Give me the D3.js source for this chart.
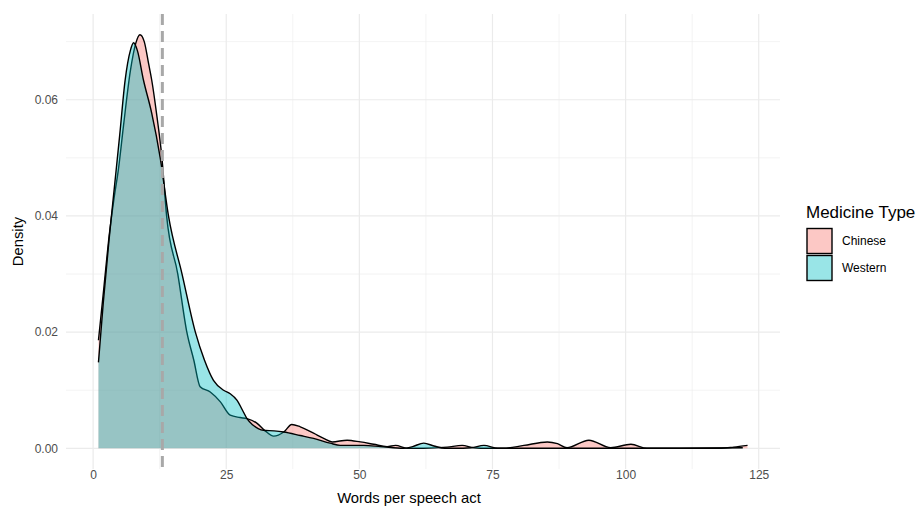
<!DOCTYPE html>
<html>
<head>
<meta charset="utf-8">
<script src="https://cdn.jsdelivr.net/npm/d3@7"></script>
<style>
  body { margin: 0; background: #fff; }
  text { font-family: "Liberation Sans", Arial, sans-serif; }
</style>
</head>
<body>
<div id="chart"></div>
<script>
// density estimates (x = words per speech act)
var groups = ["Chinese", "Western"];
var fills = ["#F8766D", "#00BFC4"];

var chineseX = [1, 2, 3, 4, 4.75, 5.7, 7, 8, 8.8, 9.6, 10.4, 11, 12, 12.9, 13.8, 15.9, 17.6, 18.9, 20.1, 22,
    23.9, 25.75, 27.6, 28.9, 30.8, 32.3, 33.9, 35.8, 37.3, 38.9, 41.4, 43.3, 44.9, 47.7, 50.2, 52.7, 55.2,
    56.8, 59, 62, 66.5, 69.3, 71.5, 74, 77, 80.9, 85.3, 87.2, 89, 93.1, 97.2, 101, 104, 110, 118, 120.3, 122.9];
var chineseY = [0.0186, 0.0275, 0.0365, 0.0435, 0.048, 0.0555, 0.065, 0.0697, 0.0712, 0.0700, 0.0663, 0.0634,
    0.0570, 0.0502, 0.0400, 0.0300, 0.0200, 0.0152, 0.0106, 0.0097, 0.0080, 0.0057, 0.0053, 0.0051, 0.0043,
    0.0030, 0.0021, 0.0028, 0.0041, 0.0037, 0.0026, 0.0017, 0.0011, 0.0014, 0.0011, 0.0007, 0.0003, 0.0005,
    0.0000, 0.0000, 0.0002, 0.0005, 0.0001, 0.0000, 0.0000, 0.0005, 0.0011, 0.0008, 0.0001, 0.0014, 0.0001,
    0.0007, 0.0000, 0.0000, 0.0000, 0.0002, 0.0005];

var westernX = [1, 1.9, 3, 4, 5, 6, 7, 7.6, 8.3, 9.45, 11, 12.6, 14.15, 16.7, 19.2, 20.9, 22.6, 24.5, 25.75,
    27, 28.2, 28.9, 30, 31, 32, 34, 35.8, 38.9, 41.4, 44.5, 46.4, 50.8, 54, 58.3, 60, 62.1, 64, 66, 68, 71,
    73.4, 76, 85, 100, 110, 122];
var westernY = [0.0148, 0.0250, 0.0360, 0.0450, 0.0540, 0.0633, 0.0685, 0.0698, 0.0685, 0.0634, 0.0577, 0.0500,
    0.0400, 0.0300, 0.0200, 0.0152, 0.0117, 0.0100, 0.0094, 0.0083, 0.0063, 0.0051, 0.0040, 0.0034, 0.0031,
    0.0030, 0.0028, 0.0022, 0.0017, 0.0009, 0.0005, 0.0005, 0.0003, 0.0000, 0.0003, 0.0009, 0.0004, 0.0000,
    0.0000, 0.0001, 0.0005, 0.0000, 0.0000, 0.0000, 0.0000, 0.0001];

var meanWords = 13;

var xTicks = [0, 25, 50, 75, 100, 125];
var xMinor = [12.5, 37.5, 62.5, 87.5, 112.5];
var yTicks = [0, 0.02, 0.04, 0.06];
var yMinor = [0.01, 0.03, 0.05, 0.07];

var width = 919, height = 510;
var panel = { left: 66, right: 780, top: 14, bottom: 469 };

var series = [
    { name: groups[0], fill: fills[0], pts: chineseX.map(function(x, i) { return [x, chineseY[i]]; }) },
    { name: groups[1], fill: fills[1], pts: westernX.map(function(x, i) { return [x, westernY[i]]; }) }
];

var allX = chineseX.concat(westernX);
var allY = chineseY.concat(westernY);
var xExt = d3.extent(allX);
var xPad = (xExt[1] - xExt[0]) * 0.05;
var yMax = d3.max(allY);
var yPad = yMax * 0.05;

var x = d3.scaleLinear().domain([xExt[0] - xPad, xExt[1] + xPad]).range([panel.left, panel.right]);
var y = d3.scaleLinear().domain([-yPad, yMax + yPad]).range([panel.bottom, panel.top]);

var svg = d3.select("#chart").append("svg")
    .attr("width", width)
    .attr("height", height);

// grid
var grid = svg.append("g");
grid.selectAll(".xminor").data(xMinor).enter().append("line")
    .attr("x1", function(d) { return x(d); }).attr("x2", function(d) { return x(d); })
    .attr("y1", panel.top).attr("y2", panel.bottom)
    .style("stroke", "#EBEBEB").style("stroke-width", 0.6);
grid.selectAll(".yminor").data(yMinor).enter().append("line")
    .attr("y1", function(d) { return y(d); }).attr("y2", function(d) { return y(d); })
    .attr("x1", panel.left).attr("x2", panel.right)
    .style("stroke", "#EBEBEB").style("stroke-width", 0.6);
grid.selectAll(".xmajor").data(xTicks).enter().append("line")
    .attr("x1", function(d) { return x(d); }).attr("x2", function(d) { return x(d); })
    .attr("y1", panel.top).attr("y2", panel.bottom)
    .style("stroke", "#EBEBEB").style("stroke-width", 1.2);
grid.selectAll(".ymajor").data(yTicks).enter().append("line")
    .attr("y1", function(d) { return y(d); }).attr("y2", function(d) { return y(d); })
    .attr("x1", panel.left).attr("x2", panel.right)
    .style("stroke", "#EBEBEB").style("stroke-width", 1.2);

// densities
var area = d3.area()
    .x(function(d) { return x(d[0]); })
    .y0(y(0))
    .y1(function(d) { return y(d[1]); })
    .curve(d3.curveMonotoneX);
var line = d3.line()
    .x(function(d) { return x(d[0]); })
    .y(function(d) { return y(d[1]); })
    .curve(d3.curveMonotoneX);

series.forEach(function(s) {
    svg.append("path").datum(s.pts)
        .attr("d", area)
        .style("fill", s.fill)
        .style("fill-opacity", 0.4)
        .style("stroke", "none");
    svg.append("path").datum(s.pts)
        .attr("d", line)
        .style("fill", "none")
        .style("stroke", "#000")
        .style("stroke-width", 1.4);
});

// mean line
svg.append("line")
    .attr("x1", x(meanWords)).attr("x2", x(meanWords))
    .attr("y1", panel.top).attr("y2", panel.bottom)
    .style("stroke", "#A8A8A8")
    .style("stroke-width", 3)
    .style("stroke-dasharray", "11,6");

// axes (ggplot minimal: no axis lines, no ticks)
var xAxis = svg.append("g")
    .attr("transform", "translate(0," + (panel.bottom + 1) + ")")
    .call(d3.axisBottom(x).tickValues(xTicks).tickSize(0).tickPadding(0).tickFormat(d3.format("d")));
xAxis.select(".domain").remove();
xAxis.selectAll("text").attr("dy", "0.71em").style("font-size", "12px").style("fill", "#4D4D4D");

var yAxis = svg.append("g")
    .attr("transform", "translate(" + (panel.left - 8) + ",0)")
    .call(d3.axisLeft(y).tickValues(yTicks).tickSize(0).tickPadding(0).tickFormat(d3.format(".2f")));
yAxis.select(".domain").remove();
yAxis.selectAll("text").style("font-size", "12px").style("fill", "#4D4D4D");

svg.append("text")
    .attr("x", 409)
    .attr("y", 503)
    .attr("text-anchor", "middle")
    .style("font-size", "14.8px")
    .text("Words per speech act");

svg.append("text")
    .attr("transform", "translate(23," + ((panel.top + panel.bottom) / 2) + ") rotate(-90)")
    .attr("text-anchor", "middle")
    .style("font-size", "14.8px")
    .text("Density");

// legend
var legend = svg.append("g").attr("transform", "translate(806,0)");
legend.append("text")
    .attr("x", 0).attr("y", 218)
    .style("font-size", "17px")
    .text("Medicine Type");
var keys = legend.selectAll(".key").data(series).enter().append("g")
    .attr("transform", function(d, i) { return "translate(0," + (228 + i * 27) + ")"; });
keys.append("rect")
    .attr("x", 1).attr("y", 0.5)
    .attr("width", 25).attr("height", 25)
    .style("fill", function(d) { return d.fill; })
    .style("fill-opacity", 0.4)
    .style("stroke", "#000")
    .style("stroke-width", 1.4);
keys.append("text")
    .attr("x", 36).attr("y", 13)
    .attr("dy", "0.35em")
    .style("font-size", "12px")
    .text(function(d) { return d.name; });
</script>
</body>
</html>
